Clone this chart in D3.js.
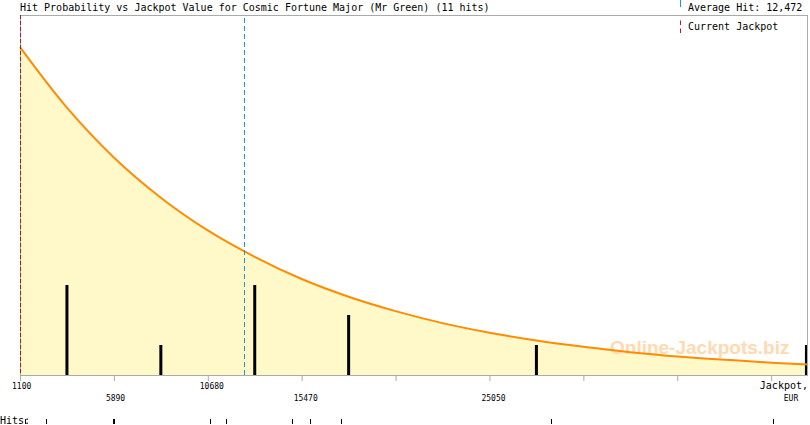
<!DOCTYPE html>
<html>
<head>
<meta charset="utf-8">
<script src="https://cdn.jsdelivr.net/npm/d3@7/dist/d3.min.js"></script>
<style>
  html, body { margin: 0; padding: 0; background: #fff; }
  svg { display: block; }
  .mono { font-family: "DejaVu Sans Mono", "Liberation Mono", monospace; }
</style>
</head>
<body>
<svg id="chart" width="810" height="425"></svg>
<script>
// ---- data ----
const titleText = "Hit Probability vs Jackpot Value for Cosmic Fortune Major (Mr Green) (11 hits)";
const averageHit = 12472;
const currentJackpot = 1075;
const xDomain = [1100, 41300];

const tickValues = [1100, 5890, 10680, 15470, 20260, 25050, 29840, 34630, 39420];
const tickLabels = ["1100", "5890", "10680", "15470", "", "25050", "", "", ""];

// histogram bins (bin centre in EUR) and hit counts
const binCenters = [3495, 8285, 13075, 17865, 27445, 41220];
const binCounts  = [3, 1, 3, 2, 1, 1];

// individual hits (EUR)
const hits = [1355, 2426, 5844, 5895, 10792, 11608, 14975, 15893, 17474, 28186, 39511];

// probability curve (in bar-count units)
const curveValues  = [1100, 3495, 5890, 8285, 10680, 13075, 15470, 17865, 20260, 22655, 25050, 27445, 29840, 32235, 34630, 37025, 39420, 41300];
const curveDensity = [10.93, 8.91, 7.25, 5.91, 4.82, 3.94, 3.20, 2.61, 2.13, 1.73, 1.41, 1.15, 0.94, 0.76, 0.62, 0.51, 0.41, 0.35];

// ---- drawing ----
const svg = d3.select("#chart");
const pLeft = 20, pRight = 808, pTop = 15, pBottom = 375;

const x = d3.scaleLinear().domain(xDomain).range([pLeft, pRight]);
const y = d3.scaleLinear().domain([0, 12]).range([pBottom, pTop]);

svg.append("rect").attr("width", 810).attr("height", 425).attr("fill", "#fff");

const curveData = curveValues.map((v, i) => ({ v, d: curveDensity[i] }));

// area fill
svg.append("path")
  .datum(curveData)
  .attr("fill", "#fff8c8")
  .attr("d", d3.area().x(p => x(p.v)).y0(y(0)).y1(p => y(p.d)).curve(d3.curveMonotoneX));

// watermark
svg.append("text")
  .attr("x", 610).attr("y", 354)
  .attr("font-family", "Liberation Sans, Arial, sans-serif")
  .attr("font-weight", "bold")
  .attr("font-size", 19)
  .attr("fill", "#ffd9b0")
  .text("Online-Jackpots.biz");

// histogram bars
svg.append("g").selectAll("rect")
  .data(binCenters.map((c, i) => ({ c, n: binCounts[i] })))
  .join("rect")
  .attr("x", d => Math.min(x(d.c), pRight - 1.5) - 1.5)
  .attr("width", 3)
  .attr("y", d => y(d.n))
  .attr("height", d => y(0) - y(d.n))
  .attr("fill", "#000");

// curve line
svg.append("path")
  .datum(curveData)
  .attr("fill", "none")
  .attr("stroke", "#ff8c00")
  .attr("stroke-width", 2)
  .attr("d", d3.line().x(p => x(p.v)).y(p => y(p.d)).curve(d3.curveMonotoneX));

// frame
const frame = svg.append("g").attr("stroke", "#aaaaaa").attr("stroke-width", 1).attr("fill", "none");
frame.append("line").attr("x1", pLeft).attr("x2", pRight).attr("y1", pTop + 0.5).attr("y2", pTop + 0.5);
frame.append("line").attr("x1", pLeft + 0.5).attr("x2", pLeft + 0.5).attr("y1", pTop).attr("y2", pBottom);
frame.append("line").attr("x1", pRight - 0.5).attr("x2", pRight - 0.5).attr("y1", pTop).attr("y2", pBottom);

// bottom axis
const axisG = svg.append("g").attr("transform", `translate(0,${pBottom})`);
axisG.call(d3.axisBottom(x).tickValues(tickValues).tickSize(6).tickFormat(""));
axisG.select(".domain").attr("stroke", "#aaaaaa").attr("d", `M${pLeft},0.5H${pRight}`);
axisG.selectAll(".tick line").attr("stroke", "#aaaaaa");

// tick labels (alternating rows)
svg.append("g").attr("class", "mono").selectAll("text")
  .data(tickValues.map((v, i) => ({ v, t: tickLabels[i], i })).filter(d => d.t !== ""))
  .join("text")
  .attr("x", d => x(d.v) - 8)
  .attr("y", d => d.i % 2 === 0 ? 388.5 : 401)
  .attr("font-size", 8)
  .attr("fill", "#000")
  .text(d => d.t);

svg.append("text").attr("class", "mono")
  .attr("x", pRight).attr("y", 389).attr("text-anchor", "end")
  .attr("font-size", 10).attr("fill", "#000").text("Jackpot,");
svg.append("text").attr("class", "mono")
  .attr("x", 791).attr("y", 401).attr("text-anchor", "middle")
  .attr("font-size", 8).attr("fill", "#000").text("EUR");

// current jackpot & average hit markers
svg.append("line")
  .attr("x1", Math.round(x(currentJackpot)) + 0.5).attr("x2", Math.round(x(currentJackpot)) + 0.5)
  .attr("y1", pTop).attr("y2", pBottom)
  .attr("stroke", "#c0141e").attr("stroke-width", 1).attr("stroke-dasharray", "4,2");
svg.append("line")
  .attr("x1", Math.round(x(averageHit)) + 1.5).attr("x2", Math.round(x(averageHit)) + 1.5)
  .attr("y1", pTop + 3).attr("y2", pBottom)
  .attr("stroke", "#1e96d2").attr("stroke-width", 1).attr("stroke-dasharray", "5,3");

// title
svg.append("text").attr("class", "mono")
  .attr("x", 20).attr("y", 10.5).attr("font-size", 10).attr("fill", "#000")
  .text(titleText);

// legend
svg.append("line").attr("x1", 680.5).attr("x2", 680.5).attr("y1", 0).attr("y2", 8)
  .attr("stroke", "#1e96d2").attr("stroke-dasharray", "7,3");
svg.append("text").attr("class", "mono")
  .attr("x", 688).attr("y", 10.5).attr("font-size", 10).attr("fill", "#000")
  .text("Average Hit: " + d3.format(",")(averageHit));
svg.append("line").attr("x1", 680.5).attr("x2", 680.5).attr("y1", 20.5).attr("y2", 33)
  .attr("stroke", "#c0141e").attr("stroke-dasharray", "4.5,3.5");
svg.append("text").attr("class", "mono")
  .attr("x", 688).attr("y", 30).attr("font-size", 10).attr("fill", "#000")
  .text("Current Jackpot");

// hits row
svg.append("text").attr("class", "mono")
  .attr("x", 0).attr("y", 423.5).attr("font-size", 10).attr("fill", "#000")
  .text("Hits:");
svg.append("g").selectAll("line")
  .data(hits)
  .join("line")
  .attr("x1", d => Math.round(x(d)) + 0.5).attr("x2", d => Math.round(x(d)) + 0.5)
  .attr("y1", 419).attr("y2", 424)
  .attr("stroke", "#000").attr("stroke-width", 1);
</script>
</body>
</html>
